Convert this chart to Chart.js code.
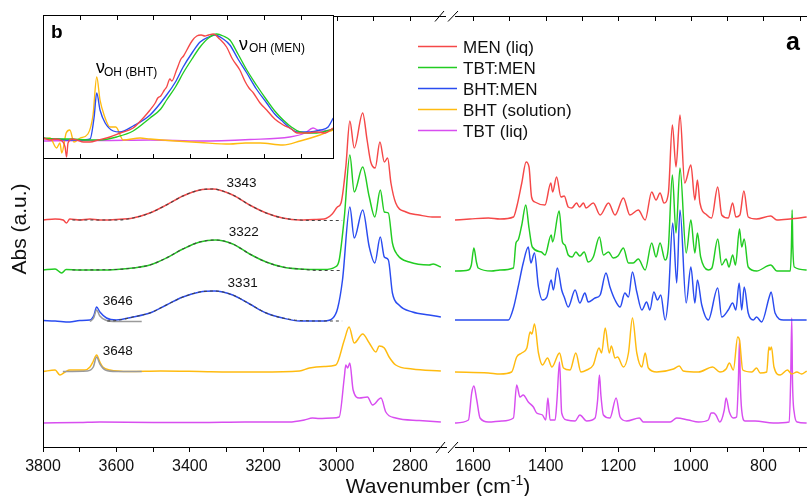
<!DOCTYPE html>
<html><head><meta charset="utf-8">
<script src="https://cdn.jsdelivr.net/npm/chart.js@4.4.1/dist/chart.umd.min.js"></script>
<style>
html,body{margin:0;padding:0;background:#fff;}
#wrap{position:relative;width:807px;height:496px;overflow:hidden;background:#fff;}
canvas{position:absolute;}
</style></head><body>
<div id="wrap">
<canvas id="cL" width="449" height="496" style="left:0;top:0;width:449px;height:496px"></canvas>
<canvas id="cR" width="358" height="496" style="left:449px;top:0;width:358px;height:496px"></canvas>
<canvas id="cI" width="291" height="144" style="left:43px;top:15px;width:291px;height:144px"></canvas>
<canvas id="ov" width="807" height="496" style="left:0;top:0;width:807px;height:496px;pointer-events:none"></canvas>
</div>
<script>
const FONT = '"Liberation Sans", Arial, Helvetica, sans-serif';
const seriesNames = ['MEN (liq)','TBT:MEN','BHT:MEN','BHT (solution)','TBT (liq)'];
const seriesColors = ['#f54848','#22cc22','#2a4cf0','#ffbb10','#d84ef0'];

// tick positions and labels on the broken wavenumber axis
const leftTickValues = [3800,3700,3600,3500,3400,3300,3200,3100,3000,2900,2800];
const leftTickLabels = [3800,3600,3400,3200,3000,2800];
const rightTickValues = [1600,1500,1400,1300,1200,1100,1000,900,800,700];
const rightTickLabels = [1600,1400,1200,1000,800];
const insetTickValues = [3700,3600,3500,3400,3300,3200,3100];

// ---- main panel, 3800-2700 cm-1 (stacked absorbance, a.u.) ----
const menL = [[3799,2.27],[3767,2.28],[3745,2.27],[3736,2.24],[3727,2.28],[3700,2.27],[3672,2.28],[3645,2.27],[3600,2.275],[3555,2.29],[3509,2.34],[3464,2.42],[3419,2.51],[3373,2.57],[3337,2.58],[3283,2.52],[3237,2.42],[3192,2.34],[3147,2.29],[3101,2.27],[3060,2.275],[3034,2.28],[3012,2.33],[2998,2.40],[2988,2.44],[2975,2.80],[2964,3.26],[2952,2.99],[2929,3.34],[2917,3.07],[2907,2.85],[2895,2.79],[2882,3.05],[2870,2.85],[2861,2.89],[2852,2.64],[2839,2.44],[2811,2.35],[2775,2.32],[2740,2.30],[2716,2.30]];
const tbtmenL = [[3799,1.77],[3767,1.78],[3749,1.74],[3737,1.775],[3700,1.77],[3645,1.77],[3600,1.775],[3555,1.79],[3509,1.82],[3464,1.89],[3419,1.98],[3373,2.05],[3330,2.07],[3283,2.03],[3237,1.93],[3192,1.85],[3147,1.80],[3101,1.78],[3034,1.775],[3004,1.80],[2993,1.87],[2979,2.30],[2964,2.92],[2952,2.55],[2929,2.80],[2911,2.50],[2896,2.30],[2881,2.57],[2870,2.35],[2859,2.34],[2848,2.04],[2834,1.92],[2802,1.85],[2748,1.82],[2737,1.83],[2716,1.80]];
const bhtmenL = [[3799,1.265],[3767,1.26],[3727,1.25],[3700,1.265],[3672,1.27],[3661,1.32],[3654,1.40],[3645,1.35],[3627,1.29],[3600,1.27],[3555,1.30],[3509,1.34],[3464,1.42],[3419,1.50],[3373,1.55],[3333,1.56],[3283,1.52],[3237,1.43],[3192,1.34],[3147,1.29],[3101,1.26],[3034,1.26],[3010,1.29],[2997,1.39],[2984,1.67],[2964,2.40],[2952,2.09],[2929,2.37],[2911,2.00],[2896,1.84],[2881,2.10],[2870,1.90],[2859,1.87],[2848,1.54],[2830,1.42],[2793,1.35],[2748,1.32],[2716,1.30]];
const bhtL = [[3799,0.755],[3767,0.77],[3754,0.72],[3740,0.75],[3727,0.77],[3686,0.77],[3672,0.80],[3664,0.85],[3654,0.92],[3645,0.85],[3637,0.80],[3618,0.77],[3564,0.755],[3480,0.76],[3373,0.755],[3290,0.75],[3210,0.75],[3101,0.76],[3074,0.79],[3034,0.805],[3002,0.82],[2979,1.07],[2966,1.20],[2952,1.04],[2929,1.13],[2911,1.04],[2893,0.95],[2884,1.01],[2870,0.99],[2857,0.90],[2839,0.82],[2794,0.78],[2716,0.76]];
const tbtL = [[3799,0.24],[3700,0.245],[3645,0.25],[3500,0.245],[3373,0.245],[3250,0.25],[3129,0.25],[3088,0.27],[3066,0.29],[3047,0.285],[3012,0.29],[2993,0.30],[2979,0.70],[2975,0.82],[2970,0.79],[2964,0.84],[2955,0.57],[2938,0.49],[2916,0.50],[2902,0.42],[2879,0.49],[2866,0.35],[2839,0.29],[2775,0.265],[2716,0.25]];

// fitted band profiles (dashed) and fitted free-OH peaks (grey)
const fitMEN = [[3720,2.27],[3600,2.27],[3555,2.29],[3509,2.34],[3464,2.42],[3419,2.51],[3373,2.57],[3340,2.58],[3283,2.52],[3237,2.42],[3192,2.34],[3147,2.29],[3101,2.27],[3040,2.265],[2985,2.265]];
const fitTBTMEN = [[3720,1.77],[3600,1.775],[3555,1.79],[3509,1.82],[3464,1.89],[3419,1.98],[3373,2.05],[3330,2.07],[3283,2.03],[3237,1.93],[3192,1.85],[3147,1.80],[3101,1.78],[3040,1.765],[2985,1.765]];
const fitBHTMEN = [[3625,1.26],[3600,1.265],[3555,1.30],[3509,1.34],[3464,1.42],[3419,1.50],[3373,1.55],[3333,1.56],[3283,1.52],[3237,1.43],[3192,1.34],[3147,1.29],[3101,1.265],[3040,1.26],[2985,1.26]];
const fit3646 = [[3672,1.255],[3662,1.29],[3654,1.37],[3645,1.31],[3630,1.27],[3600,1.255],[3531,1.255]];
const fit3648 = [[3746,0.755],[3680,0.76],[3663,0.80],[3654,0.90],[3645,0.83],[3630,0.77],[3600,0.755],[3531,0.755]];

// ---- main panel, 1650-680 cm-1 ----
const menR = [[1650,2.27],[1609,2.28],[1558,2.29],[1526,2.28],[1489,2.30],[1480,2.40],[1466,2.64],[1454,2.85],[1446,2.80],[1439,2.50],[1430,2.45],[1402,2.42],[1386,2.64],[1381,2.55],[1370,2.70],[1358,2.50],[1349,2.51],[1338,2.40],[1328,2.39],[1315,2.44],[1307,2.40],[1296,2.44],[1289,2.39],[1269,2.44],[1250,2.32],[1227,2.44],[1209,2.32],[1186,2.49],[1168,2.32],[1145,2.37],[1126,2.27],[1108,2.55],[1096,2.47],[1085,2.54],[1074,2.44],[1062,2.54],[1051,3.22],[1041,2.80],[1030,3.32],[1017,2.64],[1000,2.82],[989,2.47],[982,2.67],[975,2.44],[956,2.32],[943,2.29],[926,2.60],[915,2.32],[897,2.29],[885,2.44],[876,2.30],[865,2.32],[854,2.56],[842,2.30],[819,2.28],[780,2.31],[763,2.27],[727,2.28],[681,2.30]];
const tbtmenR = [[1650,1.76],[1613,1.77],[1605,1.82],[1598,1.99],[1591,1.85],[1586,1.79],[1549,1.76],[1526,1.77],[1489,1.79],[1482,2.04],[1476,2.07],[1466,2.22],[1455,2.42],[1446,2.19],[1437,2.00],[1412,1.95],[1402,1.92],[1385,2.12],[1381,2.05],[1363,2.36],[1354,2.05],[1347,2.02],[1338,1.92],[1327,1.90],[1317,1.95],[1306,1.91],[1294,1.95],[1283,1.85],[1269,1.90],[1252,2.10],[1241,1.92],[1227,1.95],[1214,1.89],[1201,1.91],[1186,1.99],[1172,1.84],[1159,1.84],[1145,1.88],[1126,1.77],[1108,2.04],[1096,1.90],[1085,2.04],[1071,1.87],[1062,2.00],[1051,2.72],[1041,2.14],[1030,2.79],[1013,1.94],[1000,2.27],[989,1.94],[982,2.14],[973,1.90],[952,1.77],[942,1.79],[926,2.08],[915,1.82],[903,1.88],[895,1.80],[885,1.92],[877,1.82],[866,2.18],[860,2.00],[853,2.08],[842,1.80],[819,1.76],[780,1.82],[763,1.76],[726,1.76],[723,2.0],[721,2.37],[719,2.0],[715,1.80],[681,1.77]];
const bhtmenR = [[1650,1.27],[1503,1.27],[1489,1.39],[1476,1.60],[1462,1.84],[1448,2.00],[1441,1.84],[1431,1.94],[1420,1.60],[1409,1.47],[1397,1.50],[1385,1.67],[1379,1.57],[1368,1.79],[1356,1.57],[1349,1.50],[1338,1.40],[1319,1.57],[1306,1.44],[1292,1.54],[1283,1.45],[1264,1.49],[1250,1.52],[1234,1.74],[1223,1.60],[1209,1.47],[1195,1.40],[1182,1.54],[1172,1.50],[1161,1.75],[1149,1.55],[1135,1.37],[1122,1.45],[1113,1.37],[1102,1.55],[1092,1.47],[1083,1.52],[1071,1.27],[1062,1.50],[1050,2.24],[1039,1.64],[1030,2.37],[1013,1.44],[1000,1.80],[989,1.44],[982,1.67],[970,1.42],[952,1.27],[926,1.59],[915,1.30],[897,1.37],[885,1.44],[876,1.37],[867,1.64],[860,1.37],[853,1.60],[842,1.34],[828,1.27],[819,1.30],[805,1.25],[784,1.50],[779,1.55],[768,1.34],[745,1.27],[681,1.27]];
const bhtR = [[1650,0.75],[1558,0.74],[1526,0.73],[1494,0.75],[1480,0.90],[1466,0.94],[1452,0.99],[1443,1.15],[1438,1.13],[1431,1.23],[1420,0.94],[1409,0.82],[1395,0.89],[1383,0.80],[1362,0.94],[1351,0.79],[1333,0.77],[1317,0.94],[1303,0.75],[1287,0.77],[1269,0.82],[1253,0.99],[1246,0.94],[1236,1.19],[1225,0.94],[1219,1.01],[1209,0.89],[1202,0.90],[1186,0.80],[1172,0.94],[1161,1.29],[1149,0.94],[1135,0.80],[1126,0.94],[1117,0.79],[1094,0.75],[1048,0.78],[1032,0.81],[1021,0.76],[979,0.75],[940,0.80],[920,0.75],[903,0.78],[894,0.84],[883,0.77],[871,1.10],[866,1.07],[857,0.77],[832,0.75],[819,0.79],[809,0.74],[791,0.75],[785,1.00],[782,0.97],[778,1.00],[771,0.80],[754,0.72],[734,0.77],[722,0.73],[708,0.75],[695,0.73],[681,0.76]];
const tbtR = [[1650,0.24],[1613,0.27],[1604,0.54],[1598,0.61],[1590,0.47],[1581,0.29],[1558,0.25],[1521,0.26],[1489,0.29],[1480,0.62],[1471,0.50],[1462,0.52],[1448,0.45],[1434,0.40],[1425,0.34],[1409,0.32],[1400,0.27],[1394,0.49],[1388,0.27],[1374,0.27],[1369,0.47],[1362,0.85],[1356,0.34],[1342,0.27],[1319,0.26],[1306,0.32],[1287,0.26],[1264,0.29],[1257,0.47],[1252,0.72],[1248,0.52],[1241,0.32],[1223,0.29],[1206,0.49],[1195,0.30],[1177,0.26],[1142,0.29],[1131,0.25],[1057,0.25],[1039,0.29],[1007,0.27],[979,0.25],[952,0.27],[944,0.34],[937,0.34],[931,0.32],[920,0.25],[908,0.37],[903,0.49],[894,0.35],[883,0.29],[874,0.30],[869,0.67],[866,1.07],[864,0.67],[860,0.37],[851,0.26],[823,0.26],[773,0.24],[729,0.25],[725,0.67],[722,1.29],[720,0.67],[715,0.34],[707,0.25],[681,0.24]];

// ---- inset b: OH stretching region (normalised) ----
const insetMEN = [[3799,0.21],[3780,0.19],[3767,0.20],[3748,0.18],[3740,0.12],[3736,0.02],[3732,0.16],[3720,0.20],[3708,0.19],[3690,0.17],[3672,0.17],[3650,0.19],[3618,0.22],[3590,0.26],[3555,0.31],[3530,0.40],[3509,0.49],[3495,0.56],[3488,0.61],[3480,0.63],[3470,0.69],[3464,0.72],[3455,0.80],[3450,0.78],[3437,0.89],[3425,1.00],[3418,1.03],[3409,1.09],[3395,1.18],[3382,1.23],[3370,1.24],[3360,1.23],[3350,1.24],[3337,1.25],[3320,1.20],[3301,1.12],[3285,1.00],[3265,0.89],[3250,0.77],[3240,0.71],[3228,0.66],[3210,0.56],[3192,0.49],[3170,0.40],[3147,0.34],[3125,0.30],[3110,0.26],[3083,0.26],[3056,0.27],[3034,0.26],[3011,0.31]];
const insetTBTMEN = [[3799,0.21],[3760,0.20],[3720,0.20],[3680,0.19],[3645,0.19],[3600,0.22],[3555,0.28],[3509,0.41],[3480,0.50],[3464,0.59],[3440,0.72],[3419,0.86],[3395,1.00],[3373,1.12],[3350,1.21],[3328,1.25],[3310,1.23],[3292,1.19],[3270,1.05],[3246,0.89],[3220,0.74],[3192,0.59],[3170,0.48],[3147,0.39],[3125,0.32],[3101,0.27],[3080,0.26],[3056,0.26],[3030,0.28],[3011,0.30]];
const insetBHTMEN = [[3799,0.205],[3760,0.20],[3730,0.19],[3699,0.19],[3672,0.20],[3661,0.42],[3654,0.66],[3645,0.49],[3631,0.36],[3609,0.28],[3591,0.27],[3555,0.33],[3509,0.44],[3464,0.64],[3440,0.77],[3419,0.92],[3395,1.06],[3373,1.17],[3350,1.22],[3333,1.24],[3310,1.20],[3292,1.14],[3270,1.00],[3246,0.86],[3220,0.70],[3192,0.56],[3170,0.45],[3147,0.37],[3125,0.30],[3110,0.27],[3074,0.27],[3047,0.29],[3025,0.32],[3011,0.41]];
const insetBHT = [[3799,0.20],[3781,0.21],[3763,0.11],[3754,0.16],[3749,0.06],[3737,0.26],[3727,0.29],[3716,0.17],[3699,0.21],[3678,0.25],[3664,0.44],[3654,0.82],[3645,0.59],[3634,0.44],[3618,0.32],[3602,0.32],[3582,0.19],[3536,0.21],[3509,0.20],[3440,0.18],[3373,0.165],[3292,0.15],[3250,0.16],[3210,0.16],[3148,0.14],[3101,0.18],[3047,0.24],[3012,0.29]];
const insetTBT = [[3799,0.18],[3700,0.185],[3645,0.185],[3509,0.19],[3373,0.18],[3237,0.195],[3129,0.22],[3088,0.26],[3066,0.31],[3047,0.28],[3012,0.29]];

// peak position labels [wavenumber, value, text]
const peakLabels = [[3300,2.64,'3343'],[3294,2.15,'3322'],[3297,1.64,'3331'],[3637,1.46,'3646'],[3637,0.96,'3648']];

const leftSeries = [menL, tbtmenL, bhtmenL, bhtL, tbtL];
const rightSeries = [menR, tbtmenR, bhtmenR, bhtR, tbtR];
const insetSeries = [insetMEN, insetTBTMEN, insetBHTMEN, insetBHT, insetTBT];

function specSets(list, bw){
  return list.map((d,i)=>({label:seriesNames[i], data:d, borderColor:seriesColors[i], borderWidth:bw, pointRadius:0,
    cubicInterpolationMode:'monotone', fill:false, order:10+i}));
}
const commonPlugins = {legend:{display:false}, tooltip:{enabled:false}};

function frame(id){
  return {
    id:id,
    afterDatasetsDraw(chart){
      const {ctx, chartArea:a, scales} = chart;
      const x = scales.x, y = scales.y;
      ctx.save();
      ctx.strokeStyle = '#000'; ctx.lineWidth = 1;
      ctx.beginPath();
      if (id === 'frameL') { ctx.moveTo(a.left+0.5, a.top); ctx.lineTo(a.left+0.5, a.bottom); }
      ctx.moveTo(a.left, a.top+0.5); ctx.lineTo(a.right, a.top+0.5);
      x.ticks.forEach(t => { const px = Math.round(x.getPixelForValue(t.value))+0.5; ctx.moveTo(px, a.top); ctx.lineTo(px, a.top+5); });
      ctx.stroke();
      if (id === 'frameL') {
        ctx.fillStyle = '#111'; ctx.font = '13.5px ' + FONT; ctx.textBaseline = 'middle';
        peakLabels.forEach(p => ctx.fillText(p[2], x.getPixelForValue(p[0]), y.getPixelForValue(p[1])));
      }
      ctx.restore();
    }
  };
}

function xAxis(min, max, values, labels){
  return {type:'linear', reverse:true, min:min, max:max,
    afterBuildTicks(s){ s.ticks = values.map(v => ({value:v})); },
    afterFit(s){ s.height = 49; },
    ticks:{autoSkip:false, maxRotation:0, minRotation:0, padding:5, color:'#111',
      font:{family:FONT, size:16}, callback:(v)=> labels.includes(Math.round(v)) ? String(Math.round(v)) : ''},
    grid:{drawOnChartArea:false, drawTicks:true, tickLength:5, color:'#000', tickColor:'#000', lineWidth:1},
    border:{display:true, color:'#000', width:1}};
}

new Chart(document.getElementById('cL'), {
  type:'line',
  data:{datasets:[
    {data:fitMEN, borderColor:'#444', borderDash:[3,3], borderWidth:1.1, pointRadius:0, cubicInterpolationMode:'monotone', order:1},
    {data:fitTBTMEN, borderColor:'#444', borderDash:[3,3], borderWidth:1.1, pointRadius:0, cubicInterpolationMode:'monotone', order:1},
    {data:fitBHTMEN, borderColor:'#444', borderDash:[3,3], borderWidth:1.1, pointRadius:0, cubicInterpolationMode:'monotone', order:1},
    {data:fit3646, borderColor:'#9a9a9a', borderWidth:1.5, pointRadius:0, cubicInterpolationMode:'monotone', order:2},
    {data:fit3648, borderColor:'#9a9a9a', borderWidth:1.5, pointRadius:0, cubicInterpolationMode:'monotone', order:2}
  ].concat(specSets(leftSeries, 1.45))},
  options:{responsive:false, animation:false, events:[], plugins:commonPlugins,
    layout:{padding:{left:43, right:3, top:16, bottom:0}},
    scales:{x:xAxis(2702, 3800, leftTickValues, leftTickLabels), y:{type:'linear', display:false, min:0, max:4.31}}},
  plugins:[frame('frameL')]
});

new Chart(document.getElementById('cR'), {
  type:'line',
  data:{datasets:specSets(rightSeries, 1.45)},
  options:{responsive:false, animation:false, events:[], plugins:commonPlugins,
    layout:{padding:{left:6, right:0, top:16, bottom:0}},
    scales:{x:xAxis(680, 1650, rightTickValues, rightTickLabels), y:{type:'linear', display:false, min:0, max:4.31}}},
  plugins:[frame('frameR')]
});

new Chart(document.getElementById('cI'), {
  type:'line',
  data:{datasets:specSets(insetSeries, 1.35)},
  options:{responsive:false, animation:false, events:[], plugins:commonPlugins,
    layout:{padding:0},
    scales:{x:{type:'linear', reverse:true, min:3009, max:3800, display:false},
            y:{type:'linear', min:0, max:1.44, display:false}}},
  plugins:[{
    id:'insetFrame',
    beforeDraw(chart){ const c = chart.ctx; c.save(); c.fillStyle = '#fff'; c.fillRect(0,0,chart.width,chart.height); c.restore(); },
    afterDraw(chart){
      const c = chart.ctx, x = chart.scales.x, w = chart.width, h = chart.height;
      c.save(); c.strokeStyle = '#000'; c.lineWidth = 1;
      c.strokeRect(0.5, 0.5, w-1, h-1);
      c.beginPath();
      insetTickValues.forEach(v => { const px = Math.round(x.getPixelForValue(v))+0.5; c.moveTo(px,0); c.lineTo(px,5); c.moveTo(px,h); c.lineTo(px,h-5); });
      c.stroke();
      c.fillStyle = '#000';
      c.font = 'bold 19px ' + FONT; c.fillText('b', 8, 23);
      c.font = '18px ' + FONT; c.fillText('\u03BD', 53, 58);
      c.font = '12px ' + FONT; c.fillText('OH (BHT)', 61, 61);
      c.font = '18px ' + FONT; c.fillText('\u03BD', 196, 35);
      c.font = '12px ' + FONT; c.fillText('OH (MEN)', 206, 37);
      c.restore();
    }
  }]
});

// overlay: legend, axis titles, panel label, axis break marks
const ov = document.getElementById('ov').getContext('2d');
const legendY = [46.5, 67.5, 88.5, 109.5, 130.5];
seriesNames.forEach((n,i) => {
  const y = legendY[i];
  ov.strokeStyle = seriesColors[i]; ov.lineWidth = 1.5;
  ov.beginPath(); ov.moveTo(418, y); ov.lineTo(457, y); ov.stroke();
  ov.fillStyle = '#111'; ov.font = '17px ' + FONT; ov.textBaseline = 'alphabetic';
  ov.fillText(n, 463, y + 6.5);
});
ov.fillStyle = '#000';
ov.font = 'bold 25px ' + FONT; ov.fillText('a', 786, 50);
// x title
(function(){
  const t1 = 'Wavenumber (cm', t2 = '-1', t3 = ')';
  ov.font = '21px ' + FONT; const w1 = ov.measureText(t1).width, w3 = ov.measureText(t3).width;
  ov.font = '14px ' + FONT; const w2 = ov.measureText(t2).width;
  let x0 = 438 - (w1 + w2 + w3) / 2;
  ov.fillStyle = '#111';
  ov.font = '21px ' + FONT; ov.fillText(t1, x0, 493);
  ov.font = '14px ' + FONT; ov.fillText(t2, x0 + w1, 485);
  ov.font = '21px ' + FONT; ov.fillText(t3, x0 + w1 + w2, 493);
})();
// y title
ov.save(); ov.translate(20, 229); ov.rotate(-Math.PI/2);
ov.font = '21px ' + FONT; ov.textAlign = 'center'; ov.textBaseline = 'middle'; ov.fillStyle = '#111';
ov.fillText('Abs (a.u.)', 0, 0); ov.restore();
// break marks
ov.strokeStyle = '#000'; ov.lineWidth = 1;
ov.beginPath();
[[436,453,445,442],[448,453,458,442],[435,21.5,444,11],[448,21.5,458,11]].forEach(s => { ov.moveTo(s[0],s[1]); ov.lineTo(s[2],s[3]); });
ov.stroke();
</script>
</body></html>
